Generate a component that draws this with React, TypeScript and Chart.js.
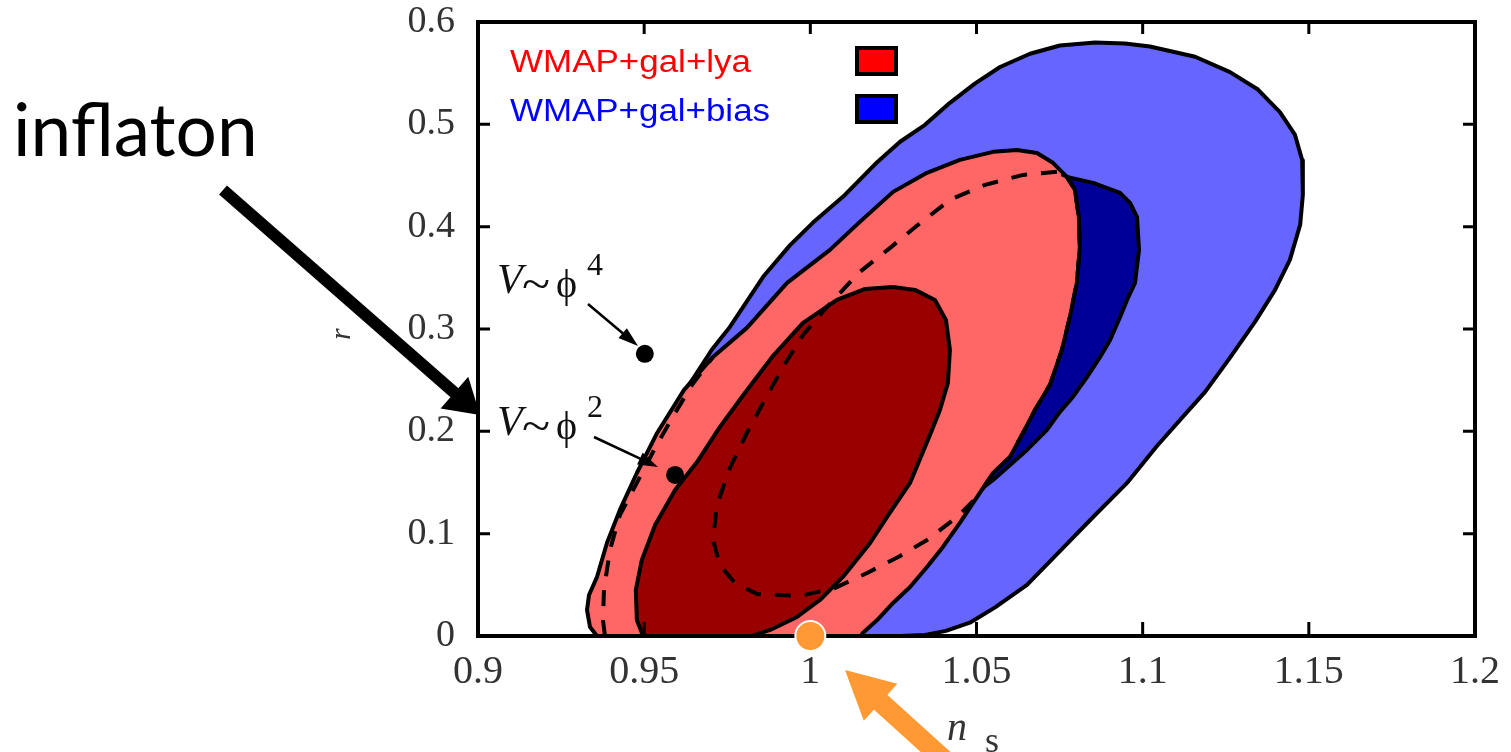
import React, { useEffect, useRef } from "react";
import { Chart, registerables } from "chart.js";

Chart.register(...registerables);

// ---------- data (ns, r) ----------
const xTickLabels = ["0.9", "0.95", "1", "1.05", "1.1", "1.15", "1.2"];
const yTickLabels = ["0", "0.1", "0.2", "0.3", "0.4", "0.5", "0.6"];

// WMAP+gal+bias, 95% region (light blue)
const biasOuter: [number, number][] = [
  [0.945, 0], [0.942, 0.04], [0.944, 0.08], [0.948, 0.12], [0.953, 0.16], [0.958, 0.2],
  [0.9625, 0.235], [0.9638, 0.247], [0.9704, 0.28], [0.9758, 0.302], [0.9858, 0.351],
  [0.9939, 0.382], [1.0008, 0.404], [1.0104, 0.431], [1.0201, 0.463], [1.027, 0.483],
  [1.0345, 0.4995], [1.042, 0.521], [1.0496, 0.54], [1.0571, 0.556], [1.0661, 0.569],
  [1.0751, 0.577], [1.0857, 0.58], [1.0947, 0.579], [1.1022, 0.576], [1.1158, 0.566],
  [1.1263, 0.551], [1.1347, 0.534], [1.1413, 0.512], [1.1458, 0.49], [1.148, 0.465],
  [1.1482, 0.431], [1.1474, 0.402], [1.1443, 0.3675], [1.1398, 0.338], [1.1338, 0.307],
  [1.1263, 0.272], [1.1188, 0.2385], [1.1112, 0.211], [1.1043, 0.1857], [1.0953, 0.1496],
  [1.0851, 0.1163], [1.0751, 0.083], [1.0652, 0.05], [1.0556, 0.028], [1.048, 0.013],
  [1.0408, 0.005], [1.0345, 0.001], [1.027, 0], [0.945, 0],
];

// WMAP+gal+bias, 68% region (dark blue)
const biasInner: [number, number][] = [
  [1.0772, 0.4487], [1.0851, 0.4428], [1.0932, 0.433], [1.0962, 0.4233], [1.0983, 0.4096],
  [1.0989, 0.3773], [1.0977, 0.345], [1.0953, 0.3284], [1.0932, 0.3118], [1.0902, 0.2893],
  [1.0872, 0.2727], [1.0833, 0.2532], [1.079, 0.2336], [1.0751, 0.219], [1.0712, 0.2014],
  [1.0652, 0.1818], [1.0601, 0.1672], [1.055, 0.1525], [1.0511, 0.1427], [1.0571, 0.2307],
  [1.0661, 0.3284], [1.0721, 0.4262], [1.0772, 0.4487],
];

// WMAP+gal+lya, 95% region (light red)
const lyaOuter: [number, number][] = [
  [0.9358, 0], [0.9337, 0.0088], [0.9328, 0.0254], [0.9334, 0.04], [0.9358, 0.0577],
  [0.9388, 0.0909], [0.9427, 0.1232], [0.9478, 0.1593], [0.9539, 0.1984], [0.962, 0.2405],
  [0.9707, 0.2727], [0.9809, 0.3011], [0.993, 0.345], [1.0059, 0.3773], [1.0149, 0.4047],
  [1.0249, 0.434], [1.0351, 0.4526], [1.045, 0.4653], [1.055, 0.4731], [1.0622, 0.475],
  [1.0682, 0.472], [1.073, 0.4624], [1.0772, 0.4487], [1.0796, 0.436], [1.0808, 0.4096],
  [1.0811, 0.3802], [1.0802, 0.345], [1.0781, 0.3118], [1.0757, 0.2796], [1.0721, 0.2454],
  [1.0676, 0.2209], [1.064, 0.1984], [1.0601, 0.175], [1.055, 0.1593], [1.0502, 0.1359],
  [1.045, 0.1105], [1.0399, 0.087], [1.0351, 0.0674], [1.03, 0.0479], [1.0249, 0.0323],
  [1.0201, 0.0156], [1.0158, 0.003], [1.0152, 0], [0.9358, 0],
];

// WMAP+gal+lya, 68% region (dark red)
const lyaInner: [number, number][] = [
  [1.0249, 0.341], [1.0315, 0.3382], [1.0375, 0.3284], [1.0408, 0.3089], [1.042, 0.2796],
  [1.0414, 0.2473], [1.039, 0.2209], [1.036, 0.1965], [1.03, 0.1496], [1.0231, 0.1163],
  [1.018, 0.0909], [1.0098, 0.0577], [1.0029, 0.0352], [0.996, 0.0186], [0.9879, 0.0059],
  [0.9824, 0], [0.9497, 0], [0.9478, 0.0156], [0.9475, 0.045], [0.9493, 0.0743],
  [0.9533, 0.1085], [0.9593, 0.1427], [0.9659, 0.17], [0.9728, 0.2043], [0.9803, 0.2375],
  [0.9885, 0.2727], [0.9978, 0.306], [1.008, 0.3284], [1.0165, 0.3392], [1.0249, 0.341],
];

// dashed comparison contours
const dashedInner: [number, number][] = [
  [1.0742, 0.4536], [1.064, 0.4506], [1.0526, 0.4409], [1.042, 0.4262], [1.0324, 0.4018],
  [1.024, 0.3793], [1.0149, 0.3558], [1.005, 0.3216], [0.9978, 0.2942], [0.9918, 0.263],
  [0.9858, 0.2278], [0.9809, 0.1984], [0.9758, 0.1642], [0.9719, 0.128], [0.9707, 0.0938],
  [0.9728, 0.0694], [0.9773, 0.0518], [0.984, 0.041], [0.9969, 0.0391], [1.0074, 0.0469],
  [1.0171, 0.0616], [1.027, 0.0782], [1.0351, 0.0938], [1.0441, 0.1163], [1.0502, 0.1359],
  [1.055, 0.1593], [1.0601, 0.175], [1.064, 0.1984], [1.0676, 0.2209], [1.0721, 0.2454],
  [1.0757, 0.2796], [1.0781, 0.3118], [1.0802, 0.345], [1.0811, 0.3802], [1.0808, 0.4096],
  [1.0796, 0.436], [1.0772, 0.4487], [1.0742, 0.4536],
];
const dashedOuter: [number, number][] = [
  [0.9382, 0], [0.9376, 0.0156], [0.9379, 0.045], [0.9397, 0.084], [0.9427, 0.1183],
  [0.9478, 0.1496], [0.9533, 0.1838], [0.9584, 0.2131], [0.9644, 0.2454], [0.9707, 0.2727],
];

// inflaton model predictions
const modelPoints: [number, number][] = [
  [0.9502, 0.2757], // V ~ phi^4
  [0.9593, 0.1574], // V ~ phi^2
];
const harrisonZeldovich: [number, number][] = [[1.0, 0]];

const legendItems = [
  { label: "WMAP+gal+lya", color: "#ff0000" },
  { label: "WMAP+gal+bias", color: "#0000ff" },
];

const toXY = (arr: [number, number][]) => arr.map(([x, y]) => ({ x, y }));

function arrow(ctx: CanvasRenderingContext2D, x1: number, y1: number, x2: number, y2: number,
  shaftW: number, headL: number, headW: number, color: string) {
  const a = Math.atan2(y2 - y1, x2 - x1);
  const c = Math.cos(a), s = Math.sin(a);
  const bx = x2 - headL * c, by = y2 - headL * s;
  ctx.save();
  ctx.strokeStyle = color;
  ctx.fillStyle = color;
  ctx.lineWidth = shaftW;
  ctx.lineCap = "butt";
  ctx.beginPath();
  ctx.moveTo(x1, y1);
  ctx.lineTo(bx + c * 2, by + s * 2);
  ctx.stroke();
  ctx.beginPath();
  ctx.moveTo(x2, y2);
  ctx.lineTo(bx + (headW / 2) * s, by - (headW / 2) * c);
  ctx.lineTo(bx - (headW / 2) * s, by + (headW / 2) * c);
  ctx.closePath();
  ctx.fill();
  ctx.restore();
}

function stretchText(ctx: CanvasRenderingContext2D, text: string, x: number, y: number, width: number) {
  const w = ctx.measureText(text).width;
  ctx.save();
  ctx.translate(x, y);
  ctx.scale(width / w, 1);
  ctx.fillText(text, 0, 0);
  ctx.restore();
}

const overlayPlugin = {
  id: "overlay",
  afterDatasetDraw(chart: any, args: any) {
    const ds = chart.data.datasets[args.index];
    if (!ds || ds.label !== "models") return;
    const { ctx, chartArea: a, scales } = chart;
    ctx.save();
    ctx.strokeStyle = "#000";
    ctx.lineCap = "butt";
    ctx.lineWidth = 3;
    scales.x.ticks.forEach((t: any) => {
      const px = scales.x.getPixelForValue(t.value);
      ctx.beginPath();
      ctx.moveTo(px, a.bottom); ctx.lineTo(px, a.bottom - 14);
      ctx.moveTo(px, a.top); ctx.lineTo(px, a.top + 12);
      ctx.stroke();
    });
    scales.y.ticks.forEach((t: any) => {
      const py = scales.y.getPixelForValue(t.value);
      ctx.beginPath();
      ctx.moveTo(a.left, py); ctx.lineTo(a.left + 12, py);
      ctx.moveTo(a.right, py); ctx.lineTo(a.right - 12, py);
      ctx.stroke();
    });
    ctx.lineWidth = 4;
    ctx.strokeRect(a.left, a.top, a.right - a.left, a.bottom - a.top);
    ctx.restore();
  },
  afterDraw(chart: any) {
    const { ctx } = chart;
    ctx.save();
    // legend
    ctx.font = '31px "Liberation Sans", Arial, sans-serif';
    ctx.textBaseline = "alphabetic";
    legendItems.forEach((item, i) => {
      ctx.fillStyle = item.color;
      stretchText(ctx, item.label, 510, 72 + i * 49, i === 0 ? 241 : 260);
      ctx.fillStyle = "#000";
      ctx.fillRect(855, 46 + i * 48, 43, 30);
      ctx.fillStyle = item.color;
      ctx.fillRect(859, 50 + i * 48, 35, 22);
    });

    // axis titles
    ctx.fillStyle = "#333";
    ctx.font = 'italic 40px "Liberation Serif", serif';
    ctx.fillText("n", 947, 740);
    ctx.font = '36px "Liberation Serif", serif';
    ctx.fillText("s", 985, 752);
    ctx.save();
    ctx.translate(350, 340);
    ctx.rotate(-Math.PI / 2);
    ctx.font = 'italic 30px "Liberation Serif", serif';
    ctx.fillText("r", 0, 0);
    ctx.restore();

    // model labels
    ctx.fillStyle = "#111";
    const labels = [
      { base: 293, sup: "4", tip: [638, 346], from: [588, 304] },
      { base: 435, sup: "2", tip: [658, 467], from: [594, 437] },
    ];
    labels.forEach((l) => {
      ctx.font = 'italic 42px "Liberation Serif", serif';
      ctx.fillText("V", 497, l.base);
      ctx.font = '46px "Liberation Serif", serif';
      stretchText(ctx, "~", 522, l.base + 6, 28);
      ctx.font = '40px "Liberation Serif", serif';
      ctx.fillText("\u03D5", 556, l.base + 4);
      ctx.font = '32px "Liberation Serif", serif';
      ctx.fillText(l.sup, 587, l.base - 18);
      arrow(ctx, l.from[0], l.from[1], l.tip[0], l.tip[1], 2.5, 20, 13, "#000");
    });

    // inflaton
    ctx.fillStyle = "#000";
    ctx.font = '73px Lato, "Open Sans", sans-serif';
    ctx.fillText("inflaton", 13, 156);
    arrow(ctx, 223, 190, 480, 415, 12, 34, 42, "#000");

    // orange arrow
    arrow(ctx, 950, 765, 845, 670, 20, 48, 50, "#ff9933");
    ctx.restore();
  },
};

export default function App() {
  const ref = useRef<HTMLCanvasElement | null>(null);
  useEffect(() => {
    if (!ref.current) return;
    const fillSet = (label: string, data: [number, number][], color: string, order: number) => ({
      label,
      data: toXY(data),
      showLine: true,
      fill: "shape",
      backgroundColor: color,
      borderColor: "#000",
      borderWidth: 4,
      pointRadius: 0,
      tension: 0,
      borderJoinStyle: "round",
      order,
    });
    const chart = new Chart(ref.current, {
      type: "scatter",
      data: {
        datasets: [
          fillSet("bias95", biasOuter, "#6666ff", 10),
          fillSet("bias68", biasInner, "#000099", 9),
          fillSet("lya95", lyaOuter, "#ff6666", 8),
          fillSet("lya68", lyaInner, "#990000", 7),
          {
            label: "dashed68", data: toXY(dashedInner), showLine: true, fill: false,
            borderColor: "#000", borderWidth: 4, borderDash: [16, 14], pointRadius: 0, order: 6,
          },
          {
            label: "dashed95", data: toXY(dashedOuter), showLine: true, fill: false,
            borderColor: "#000", borderWidth: 4, borderDash: [16, 14], pointRadius: 0, order: 5,
          },
          {
            label: "models", data: toXY(modelPoints), showLine: false, pointRadius: 9,
            pointBackgroundColor: "#000", pointBorderWidth: 0, order: 2,
          },
          {
            label: "HZ", data: toXY(harrisonZeldovich), showLine: false, pointRadius: 15,
            pointBackgroundColor: "#ff9933", pointBorderColor: "#ffffff", pointBorderWidth: 2,
            clip: false, order: 1,
          },
        ] as any,
      },
      options: {
        responsive: false,
        animation: false,
        events: [],
        layout: { padding: { left: 0, right: 36, top: 22, bottom: 0 } },
        plugins: { legend: { display: false }, tooltip: { enabled: false } },
        scales: {
          x: {
            type: "linear", min: 0.9, max: 1.2,
            ticks: {
              stepSize: 0.05, autoSkip: false, maxRotation: 0, padding: 12,
              callback: (_v: any, i: number) => xTickLabels[i],
              font: { family: '"Liberation Serif", serif', size: 40 }, color: "#333",
            },
            grid: { display: false, drawTicks: false },
            border: { display: false },
            afterFit: (s: any) => { s.height = 116; s.paddingLeft = 0; s.paddingRight = 0; },
          },
          y: {
            type: "linear", min: 0, max: 0.6,
            ticks: {
              stepSize: 0.1, autoSkip: false, padding: 23,
              callback: (_v: any, i: number) => yTickLabels[i],
              font: { family: '"Liberation Serif", serif', size: 38 }, color: "#333",
            },
            grid: { display: false, drawTicks: false },
            border: { display: false },
            afterFit: (s: any) => { s.width = 478; s.paddingTop = 0; s.paddingBottom = 0; },
          },
        },
      } as any,
      plugins: [overlayPlugin as any],
    });
    return () => chart.destroy();
  }, []);
  return (
    <div style={{ position: "fixed", left: 0, top: 0, width: 1511, height: 752, background: "#fff" }}>
      <canvas ref={ref} width={1511} height={752} style={{ display: "block", width: 1511, height: 752 }} />
    </div>
  );
}
